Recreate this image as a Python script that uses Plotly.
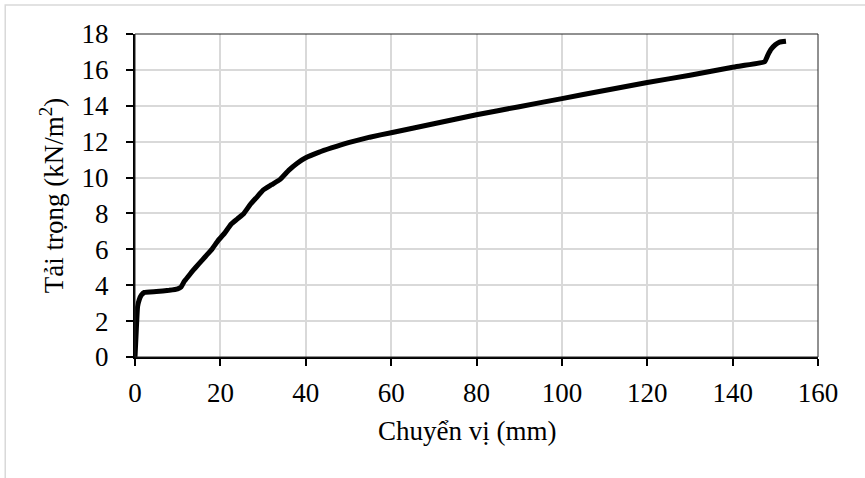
import plotly.graph_objects as go

# Displacement (mm) and load (kN/m2)
disp = [0, 0.3, 0.6, 1.0, 1.5, 2.2, 5, 8, 10, 10.8, 11.5, 12.5, 13.5, 15, 16.5, 18,
        19.5, 21, 22.5, 24, 25.5, 27, 28.5, 30, 32, 34, 36, 38, 40, 43, 46, 50, 55,
        60, 70, 80, 90, 100, 110, 120, 130, 140, 147.5, 148.3, 149, 150, 151, 152.5]
load = [0, 1.5, 2.8, 3.2, 3.45, 3.6, 3.65, 3.72, 3.8, 3.9, 4.2, 4.5, 4.8, 5.2, 5.6, 6.0,
        6.5, 6.9, 7.4, 7.7, 8.0, 8.5, 8.9, 9.3, 9.6, 9.9, 10.4, 10.8, 11.1, 11.4, 11.65, 11.95, 12.25,
        12.5, 13.0, 13.5, 13.95, 14.4, 14.85, 15.3, 15.7, 16.15, 16.45, 16.85, 17.15, 17.4, 17.55, 17.6]

x_title = "Chuyển vị (mm)"
y_title = "Tải trọng (kN/m<sup>2</sup>)"

FONT = "Liberation Serif"
FS = 27

fig = go.Figure()
fig.add_trace(go.Scatter(x=disp, y=load, mode="lines",
                         line=dict(color="black", width=5, shape="spline", smoothing=0.3),
                         showlegend=False, hoverinfo="skip"))

fig.update_layout(
    width=865, height=478,
    margin=dict(l=135, r=47, t=34, b=121),
    paper_bgcolor="white", plot_bgcolor="white",
    font=dict(family=FONT, size=FS, color="black"),
    xaxis=dict(range=[0, 160], dtick=20, tick0=0, showgrid=True, gridcolor="#d9d9d9", gridwidth=1.5,
               showline=True, linecolor="black", linewidth=2, ticks="outside", ticklen=7,
               tickwidth=2, tickcolor="black", zeroline=False, ticklabelstandoff=4,
               tickfont=dict(family=FONT, size=FS)),
    yaxis=dict(range=[0, 18], dtick=2, tick0=0, showgrid=True, gridcolor="#d9d9d9", gridwidth=1.5,
               showline=True, linecolor="black", linewidth=2, ticks="outside", ticklen=7,
               tickwidth=2, tickcolor="black", zeroline=False, ticklabelstandoff=12,
               title=dict(text=y_title, font=dict(family=FONT, size=FS), standoff=10),
               tickfont=dict(family=FONT, size=FS)),
    annotations=[
        dict(text=x_title, xref="paper", yref="paper", x=0.486, y=-0.229,
             xanchor="center", yanchor="middle", showarrow=False,
             font=dict(family=FONT, size=FS, color="black")),
    ],
    shapes=[
        dict(type="rect", xref="paper", yref="paper", x0=0, x1=1, y0=0, y1=1,
             line=dict(color="#222", width=1), fillcolor="rgba(0,0,0,0)", layer="above"),
        dict(type="rect", xref="paper", yref="paper", x0=-0.19, x1=1.2, y0=-0.5, y1=1.0898,
             line=dict(color="#d9d9d9", width=1.5), fillcolor="rgba(0,0,0,0)"),
    ],
)

fig.write_html("out.html", config={"displayModeBar": False},
               post_script="document.body.style.margin='0';")
